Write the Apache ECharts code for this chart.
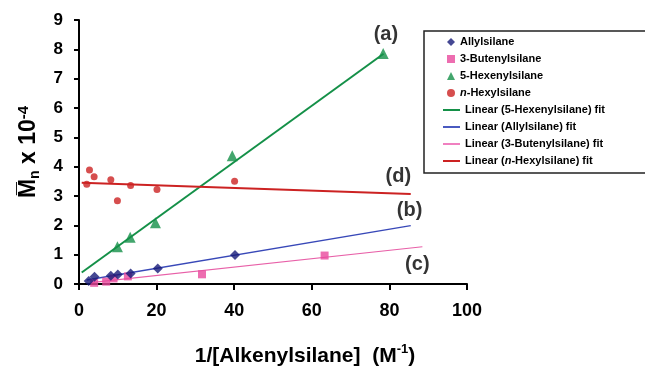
<!DOCTYPE html>
<html><head><meta charset="utf-8">
<script src="https://cdn.jsdelivr.net/npm/echarts@6/dist/echarts.min.js"></script>
<style>html,body{margin:0;padding:0;background:#fff}#c{width:645px;height:368px}</style>
</head><body><div id="c"></div>
<script>
// ---- data ----
const xTicks = [0, 20, 40, 60, 80, 100];
const yTicks = [0, 1, 2, 3, 4, 5, 6, 7, 8, 9];
const allyl = [[2.5,0.1],[4,0.25],[8.2,0.28],[10,0.32],[13.3,0.36],[20.3,0.53],[40.2,0.99]];
const buten = [[3.9,0.04],[7,0.08],[8.9,0.19],[12.6,0.26],[31.7,0.33],[63.3,0.97]];
const hexen = [[9.9,1.27],[13.2,1.59],[19.7,2.09],[39.5,4.37],[78.4,7.86]];
const hexyl = [[2,3.40],[2.7,3.89],[3.9,3.66],[8.2,3.55],[9.9,2.84],[13.3,3.36],[20.1,3.22],[40.1,3.5]];
const hexenFit = [[0.7,0.39],[78.5,7.85]];
const allylFit = [[2,0.14],[85.5,1.99]];
const butenFit = [[3,0.05],[88.5,1.27]];
const hexylFit = [[0.7,3.45],[85.5,3.07]];
const curveLabels = [[79.1,8.52,'(a)'],[85.2,2.49,'(b)'],[87.2,0.68,'(c)'],[82.3,3.65,'(d)']];
const pointNames = ['Allylsilane','3-Butenylsilane','5-Hexenylsilane','n-Hexylsilane'];
const fitNames = ['Linear (5-Hexenylsilane) fit','Linear (Allylsilane) fit','Linear (3-Butenylsilane) fit','Linear (n-Hexylsilane) fit'];

const FONT = '"Liberation Sans", Arial, sans-serif';
const legendText = {fontFamily:FONT, fontWeight:'bold', fontSize:11, color:'#000', lineHeight:12,
  rich:{i:{fontStyle:'italic', fontFamily:FONT, fontWeight:'bold', fontSize:11, color:'#000'}}};
const fmt = function(n){ return n.replace(/n-Hexyl/, '{i|n}-Hexyl'); };
const chart = echarts.init(document.getElementById('c'), null, {renderer:'canvas'});
chart.setOption({
  animation:false,
  backgroundColor:'#fff',
  grid:{left:79, right:178, top:20, bottom:84, containLabel:false, outerBoundsMode:'none'},
  xAxis:{type:'value', min:xTicks[0], max:xTicks[xTicks.length-1], interval:20,
    axisLine:{lineStyle:{color:'#000', width:2}},
    axisTick:{length:6, lineStyle:{color:'#000', width:2}},
    splitLine:{show:false},
    axisLabel:{color:'#000', fontFamily:FONT, fontWeight:'bold', fontSize:18, margin:18},
    name:'{t|1/[Alkenylsilane]  (M}{sup|-1}{t|)}', nameLocation:'middle', nameGap:59,
    nameTextStyle:{padding:[0,0,0,64], rich:{
      t:{fontFamily:FONT, fontWeight:'bold', fontSize:21, color:'#000', verticalAlign:'bottom', lineHeight:24},
      sup:{fontFamily:FONT, fontWeight:'bold', fontSize:13, color:'#000', verticalAlign:'top', lineHeight:24, padding:[0,0,7,0]}
    }}
  },
  yAxis:{type:'value', min:yTicks[0], max:yTicks[yTicks.length-1], interval:1,
    axisLine:{show:true, lineStyle:{color:'#000', width:2}},
    axisTick:{show:true, length:5, lineStyle:{color:'#000', width:2}},
    splitLine:{show:false},
    axisLabel:{color:'#000', fontFamily:FONT, fontWeight:'bold', fontSize:17, margin:16},
    name:'{t|M\u0305}{sub|n}{t| x 10}{sup|-4}', nameLocation:'middle', nameGap:37, nameRotate:90,
    nameTextStyle:{rich:{
      t:{fontFamily:FONT, fontWeight:'bold', fontSize:23, color:'#000', lineHeight:26},
      sub:{fontFamily:FONT, fontWeight:'bold', fontSize:14, color:'#000', lineHeight:26, verticalAlign:'bottom', padding:[7,0,0,0]},
      sup:{fontFamily:FONT, fontWeight:'bold', fontSize:15, color:'#000', lineHeight:26, verticalAlign:'top', padding:[0,0,9,0]}
    }}
  },
  legend:[
    {orient:'vertical', left:424, top:31, padding:[5,200,74,23], itemGap:5, itemWidth:8, itemHeight:8,
      borderColor:'#222', borderWidth:1.5, textStyle:legendText, formatter:fmt, data:pointNames},
    {orient:'vertical', left:443, top:104, padding:0, itemGap:5, itemWidth:17, itemHeight:2,
      icon:'rect', textStyle:legendText, formatter:fmt, data:fitNames}
  ],
  series:[
    {name:fitNames[0], type:'line', data:hexenFit, symbol:'none', lineStyle:{color:'#149048', width:2}, itemStyle:{color:'#149048'}, z:2},
    {name:fitNames[1], type:'line', data:allylFit, symbol:'none', lineStyle:{color:'#3848b8', width:1.5}, itemStyle:{color:'#4a5ac0'}, z:2},
    {name:fitNames[2], type:'line', data:butenFit, symbol:'none', lineStyle:{color:'#e860a8', width:1.2}, itemStyle:{color:'#f080c0'}, z:2},
    {name:fitNames[3], type:'line', data:hexylFit, symbol:'none', lineStyle:{color:'#cc2222', width:2}, itemStyle:{color:'#cc2222'}, z:2},
    {name:pointNames[0], type:'scatter', data:allyl, symbol:'diamond', symbolSize:10, itemStyle:{color:'#161a78'}, z:4},
    {name:pointNames[1], type:'scatter', data:buten, symbol:'rect', symbolSize:8, itemStyle:{color:'#e8489c'}, z:3},
    {name:pointNames[2], type:'scatter', data:hexen, symbol:'triangle', symbolSize:11, itemStyle:{color:'#149048'}, z:3},
    {name:pointNames[3], type:'scatter', data:hexyl, symbol:'circle', symbolSize:7, itemStyle:{color:'#cc2222'}, z:3},
    {type:'scatter', data:curveLabels, symbolSize:0, silent:true,
      label:{show:true, position:'inside', formatter:function(p){return p.data[2];},
        fontFamily:FONT, fontWeight:'bold', fontSize:20, color:'#000'}}
  ]
});
</script></body></html>
